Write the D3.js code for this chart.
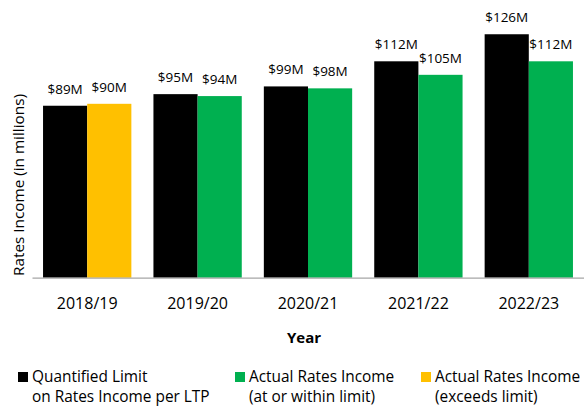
<!DOCTYPE html>
<meta charset="utf-8">
<style>
html,body{
  margin:0;
  background:#fff;
}
text{
  font-family:"Open Sans", sans-serif;
  fill:#000;
}
.label{ font-size:13.5px; }
.legend{ font-size:15.4px; }
</style>
<script src="https://d3js.org/d3.v7.min.js"></script>
<body>
<script>

var years = ["2018/19", "2019/20", "2020/21", "2021/22", "2022/23"];
var limit = [89, 95, 99, 112, 126];
var actual = [90, 94, 98, 105, 112];
var labelsLimit = ["$89M", "$95M", "$99M", "$112M", "$126M"];
var labelsActual = ["$90M", "$94M", "$98M", "$105M", "$112M"];
var legendNames = [
  ["Quantified Limit", "on Rates Income per LTP"],
  ["Actual Rates Income", "(at or within limit)"],
  ["Actual Rates Income", "(exceeds limit)"]
];

var black = "#000000", green = "#00b050", yellow = "#ffc000";

var width = 584, height = 407;

var svg = d3.select("body").append("svg")
    .attr("width", width)
    .attr("height", height);

var x = d3.scaleBand()
    .domain(years)
    .range([32, 584])
    .paddingInner(0.2)
    .paddingOuter(0.1);

var x1 = d3.scaleBand()
    .domain(["limit", "actual"])
    .range([0, x.bandwidth()]);

var y = d3.scaleLinear()
    .domain([0, 140])
    .range([277.7, 7.2]);

var rows = years.map(function(d, i){
  return {year: d, limit: limit[i], actual: actual[i], ll: labelsLimit[i], la: labelsActual[i]};
});

var g = svg.selectAll(".grp")
  .data(rows)
  .enter().append("g")
  .attr("transform", function(d){ return "translate(" + x(d.year) + ",0)"; });

g.append("rect")
  .attr("x", x1("limit"))
  .attr("y", function(d){ return y(d.limit); })
  .attr("width", x1.bandwidth())
  .attr("height", function(d){ return y(0) - y(d.limit); })
  .attr("fill", black);

g.append("rect")
  .attr("x", x1("actual"))
  .attr("y", function(d){ return y(d.actual); })
  .attr("width", x1.bandwidth())
  .attr("height", function(d){ return y(0) - y(d.actual); })
  .attr("fill", function(d){ return d.actual > d.limit ? yellow : green; });

g.append("text")
  .attr("class", "label")
  .attr("x", x1("limit") + x1.bandwidth() / 2)
  .attr("y", function(d){ return y(d.limit) - 12; })
  .attr("text-anchor", "middle")
  .text(function(d){ return d.ll; });

g.append("text")
  .attr("class", "label")
  .attr("x", x1("actual") + x1.bandwidth() / 2)
  .attr("y", function(d){ return y(d.actual) - 12; })
  .attr("text-anchor", "middle")
  .text(function(d){ return d.la; });

// x axis
var xAxis = svg.append("g")
  .attr("transform", "translate(0," + y(0) + ")")
  .call(d3.axisBottom(x).tickSize(0).tickPadding(20));
xAxis.select(".domain").attr("stroke", "#a6a6a6").attr("stroke-width", 1.3);
xAxis.selectAll("text")
  .style("font-size", "16px")
  .style("font-family", "'Open Sans', sans-serif")
  .attr("fill", "#000");

svg.append("text")
  .attr("x", 304)
  .attr("y", 343)
  .attr("text-anchor", "middle")
  .style("font-size", "15px")
  .style("font-weight", "bold")
  .text("Year");

svg.append("text")
  .attr("transform", "translate(24,185) rotate(-90)")
  .attr("text-anchor", "middle")
  .style("font-size", "15.3px")
  .text("Rates Income (in millions)");

// legend
var legX = [18, 235, 421];
var legColors = [black, green, yellow];
var leg = svg.selectAll(".leg")
  .data(legendNames)
  .enter().append("g")
  .attr("transform", function(d, i){ return "translate(" + legX[i] + ",0)"; });

leg.append("rect")
  .attr("x", 0).attr("y", 372)
  .attr("width", 10).attr("height", 10)
  .attr("fill", function(d, i){ return legColors[i]; });

leg.append("text")
  .attr("class", "legend")
  .attr("x", 14).attr("y", 382)
  .text(function(d){ return d[0]; });

leg.append("text")
  .attr("class", "legend")
  .attr("x", 14).attr("y", 402)
  .text(function(d){ return d[1]; });

</script>
</body>
